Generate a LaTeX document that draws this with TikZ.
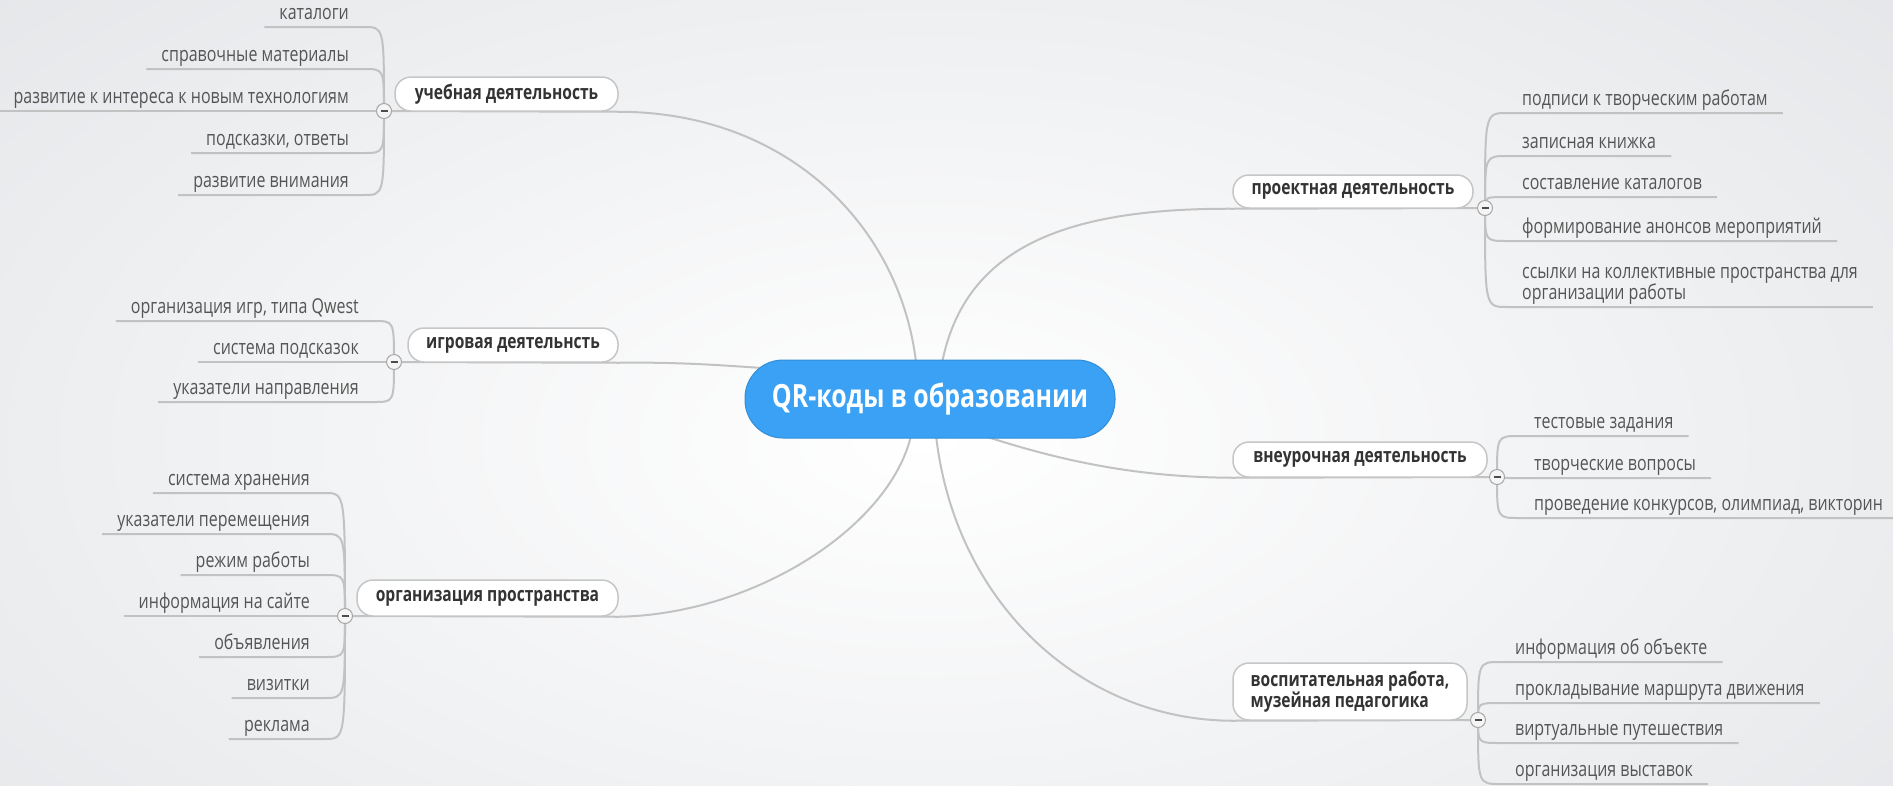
\documentclass[tikz,border=0pt]{standalone}
\usepackage{fontspec}
\setmainfont{Open Sans}[FakeStretch=0.78]
\usetikzlibrary{calc}
\definecolor{bgc}{RGB}{216,219,223}
\definecolor{linec}{RGB}{194,194,194}
\definecolor{leafc}{RGB}{85,85,85}
\definecolor{nodec}{RGB}{51,51,51}
\definecolor{mainc}{RGB}{58,161,245}
\definecolor{borderc}{RGB}{198,198,198}
\pgfdeclarelayer{bglayer}
\pgfdeclarelayer{linelayer}
\pgfsetlayers{bglayer,linelayer,main}
\tikzset{
  conn/.style={draw=linec, line width=2pt},
  leafbase/.style={font=\fontsize{20.5}{20}\selectfont, text=leafc, inner xsep=15pt, inner ysep=2pt, align=left},
  leafL/.style={leafbase, text depth=5pt, anchor=south east},
  leafR/.style={leafbase, text depth=5pt, anchor=south west},
  branchbox/.style={draw=borderc, line width=1.5pt, fill=white, rounded corners=16pt, font=\fontsize{20}{19}\selectfont\bfseries, text=nodec, inner sep=0pt, align=left},
  mainbox/.style={fill=mainc, draw=mainc!88!black, line width=1pt, rounded corners=38pt, minimum width=370pt, minimum height=78pt, font=\fontsize{32}{36}\selectfont\bfseries, text=white},
  togglec/.style={circle, draw=black!35, fill=black!4, line width=1pt, minimum size=15pt, inner sep=0pt,
    path picture={\draw[line width=2pt, black!70] ([xshift=-3.5pt]path picture bounding box.center) -- ([xshift=3.5pt]path picture bounding box.center);}},
}
\begin{document}
\begin{tikzpicture}[x=1pt, y=-1pt]
\useasboundingbox (0,0) rectangle (1893,785);
\begin{pgfonlayer}{bglayer}
  \clip (0,0) rectangle (1893,785);
  \fill[bgc] (0,0) rectangle (1893,785);
  \shade[inner color=white, outer color=bgc] (930,440) ellipse [x radius=1900pt, y radius=1000pt];
\end{pgfonlayer}

% central node
\node[mainbox] (m) at (930,399) {QR-коды в образовании};
\coordinate (m1) at (917,372);
\coordinate (m2) at (790,370);
\coordinate (m3) at (913,425);
\coordinate (m4) at (940,375);
\coordinate (m5) at (960,428);
\coordinate (m6) at (935,425);

% branch nodes
\node[branchbox, minimum width=223pt, minimum height=34pt] (b1) at (506.5,94) {учебная деятельность};
\node[branchbox, minimum width=210pt, minimum height=34pt] (b2) at (513,345) {игровая деятельнсть};
\node[branchbox, minimum width=261pt, minimum height=36pt] (b3) at (487.5,598) {организация пространства};
\node[branchbox, minimum width=240pt, minimum height=33pt] (b4) at (1353,191.5) {проектная деятельность};
\node[branchbox, minimum width=254pt, minimum height=35pt] (b5) at (1360,459.5) {внеурочная деятельность};
\node[branchbox, minimum width=234pt, minimum height=57pt] (b6) at (1350,691.5) {воспитательная работа,\\музейная педагогика};

% toggles
\node[togglec] (c1) at (384,111) {};
\node[togglec] (c2) at (394,362) {};
\node[togglec] (c3) at (345,616) {};
\node[togglec] (c4) at (1485,208) {};
\node[togglec] (c5) at (1497,477) {};
\node[togglec] (c6) at (1478,720) {};

% leaves group 1
\node[leafL] (l11) at (364,27) {каталоги};
\node[leafL] (l12) at (364,69) {справочные материалы};
\node[leafL] (l13) at (364,111) {развитие к интереса к новым технологиям};
\node[leafL] (l14) at (364,153) {подсказки, ответы};
\node[leafL] (l15) at (364,195) {развитие внимания};
% group 2
\node[leafL] (l21) at (374,321) {организация игр, типа Qwest};
\node[leafL] (l22) at (374,362) {система подсказок};
\node[leafL] (l23) at (374,402) {указатели направления};
% group 3
\node[leafL] (l31) at (325,493) {система хранения};
\node[leafL] (l32) at (325,534) {указатели перемещения};
\node[leafL] (l33) at (325,575) {режим работы};
\node[leafL] (l34) at (325,616) {информация на сайте};
\node[leafL] (l35) at (325,657) {объявления};
\node[leafL] (l36) at (325,698) {визитки};
\node[leafL] (l37) at (325,739) {реклама};
% group 4
\node[leafR] (l41) at (1507,113) {подписи к творческим работам};
\node[leafR] (l42) at (1507,156) {записная книжка};
\node[leafR] (l43) at (1507,197) {составление каталогов};
\node[leafR] (l44) at (1507,241) {формирование анонсов мероприятий};
\node[leafbase, anchor=south west] (l45) at (1507,307) {ссылки на коллективные пространства для\\организации работы};
% group 5
\node[leafR] (l51) at (1519,436) {тестовые задания};
\node[leafR] (l52) at (1519,478) {творческие вопросы};
\node[leafR] (l53) at (1519,518) {проведение конкурсов, олимпиад, викторин};
% group 6
\node[leafR] (l61) at (1500,662) {информация об объекте};
\node[leafR] (l62) at (1500,703) {прокладывание маршрута движения};
\node[leafR] (l63) at (1500,743) {виртуальные путешествия};
\node[leafR] (l64) at (1500,784) {организация выставок};

\begin{pgfonlayer}{linelayer}
  % main to branches
  \draw[conn] (c1.center) -- (b1.south east) .. controls (790,112) and (905,230) .. (m1);
  \draw[conn] (c2.center) -- (b2.south east) .. controls (680,362) and (720,365) .. (m2);
  \draw[conn] (c3.center) -- (b3.south east) .. controls (760,614) and (900,520) .. (m3);
  \draw[conn] (c4.center) -- (b4.south west) .. controls (1060,208) and (958,250) .. (m4);
  \draw[conn] (c5.center) -- (b5.south west) .. controls (1120,477) and (1040,455) .. (m5);
  \draw[conn] (c6.center) -- (b6.south west) .. controls (1080,720) and (950,600) .. (m6);
  % left leaves
  \foreach \l/\c in {l11/c1,l12/c1,l13/c1,l14/c1,l15/c1,l21/c2,l22/c2,l23/c2,l31/c3,l32/c3,l33/c3,l34/c3,l35/c3,l36/c3,l37/c3}{
    \draw[conn] (\l.south west) -- (\l.south east) .. controls (\c |- \l.south east) .. (\c.center);
  }
  % right leaves
  \foreach \l/\c in {l41/c4,l42/c4,l43/c4,l44/c4,l45/c4,l51/c5,l52/c5,l53/c5,l61/c6,l62/c6,l63/c6,l64/c6}{
    \draw[conn] (\l.south east) -- (\l.south west) .. controls (\c |- \l.south west) .. (\c.center);
  }
\end{pgfonlayer}
\end{tikzpicture}
\end{document}
